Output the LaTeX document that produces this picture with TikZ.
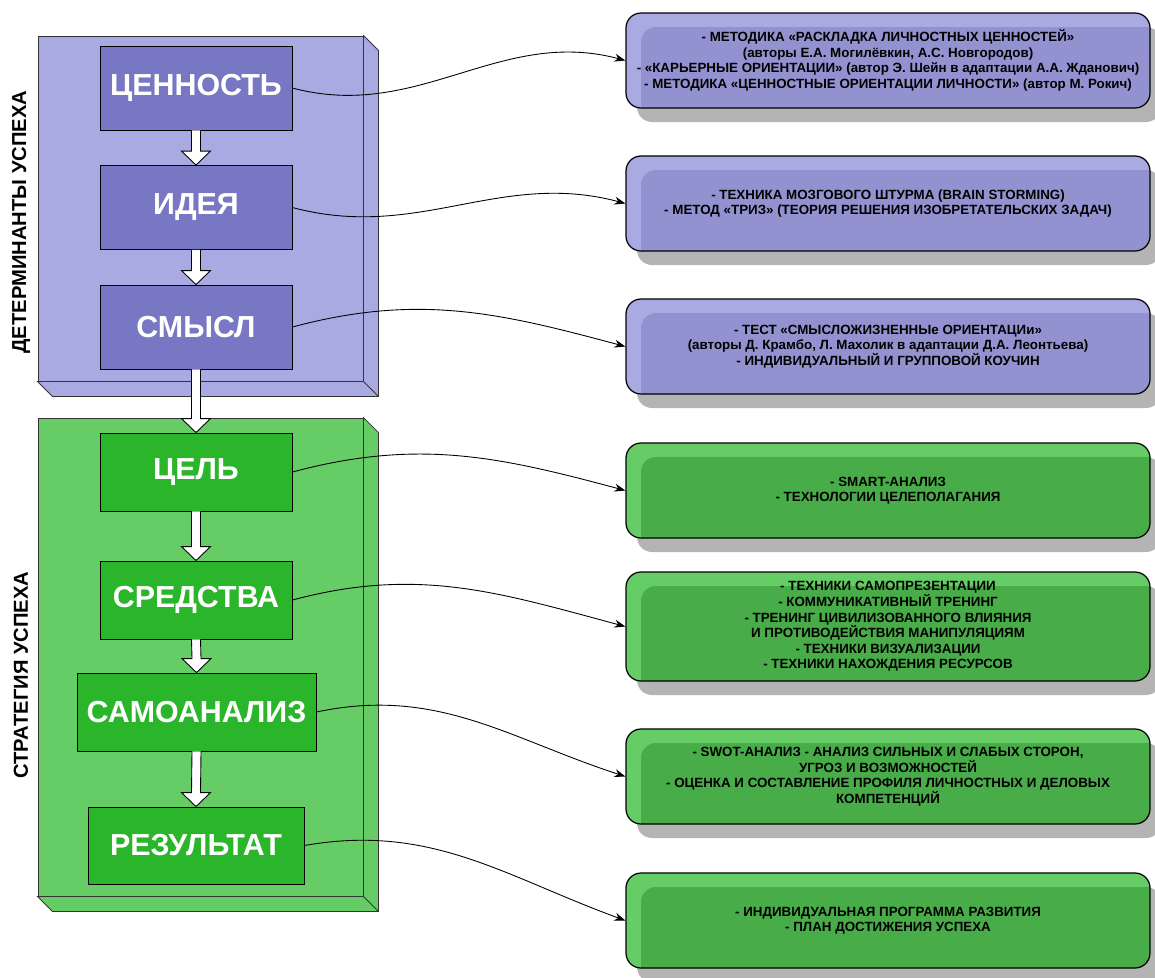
\documentclass[tikz,border=0pt]{standalone}
\usepackage{fontspec}
\setmainfont{Liberation Sans}
\usetikzlibrary{arrows.meta,positioning,calc,shadows}

\definecolor{bluepanel}{HTML}{AAAAE3}
\definecolor{bluestep}{HTML}{7777C4}
\definecolor{blueinner}{HTML}{9292D0}
\definecolor{greenpanel}{HTML}{66CC66}
\definecolor{greenstep}{HTML}{2AB52A}
\definecolor{greeninner}{HTML}{48AD48}
\definecolor{shadowgray}{HTML}{B4B4B4}

% white block arrow between two steps
\newcommand{\blockarrow}[2]{%
  \draw[arrowbox] ([xshift=-0.09cm]#1.south) -- ([xshift=-0.09cm,yshift=0.28cm]#2.north)
    -- ([xshift=-0.29cm,yshift=0.28cm]#2.north) -- (#2.north)
    -- ([xshift=0.29cm,yshift=0.28cm]#2.north) -- ([xshift=0.09cm,yshift=0.28cm]#2.north)
    -- ([xshift=0.09cm]#1.south);}

\begin{document}
\begin{tikzpicture}[
    panel/.style={draw=black!80, line width=0.5pt, minimum width=6.5cm, inner sep=0pt},
    paneltext/.style={rotate=90, font=\fontsize{11.5}{14}\selectfont\bfseries},
    stepbox/.style={draw=black, line width=0.5pt, text=white, inner sep=0pt,
        font=\fontsize{17.3}{20}\selectfont\bfseries, minimum width=3.84cm, minimum height=1.68cm},
    arrowbox/.style={draw=black, fill=white, line width=0.5pt},
    toolbox/.style={draw=black, line width=0.7pt, rounded corners=0.3cm, align=center,
        minimum width=10.48cm, minimum height=1.9cm, inner sep=0pt,
        font=\fontsize{7.6}{8.9}\selectfont\bfseries,
        drop shadow={shadow xshift=0.22cm, shadow yshift=-0.28cm, fill=shadowgray, opacity=1}},
    bluetool/.style={toolbox, fill=bluepanel, path picture={
        \fill[blueinner, rounded corners=0.3cm]
            ([xshift=0.3cm,yshift=-0.28cm]path picture bounding box.north west)
            rectangle ([xshift=0.5cm,yshift=-0.5cm]path picture bounding box.south east);}},
    greentool/.style={toolbox, fill=greenpanel, path picture={
        \fill[greeninner, rounded corners=0.3cm]
            ([xshift=0.3cm,yshift=-0.28cm]path picture bounding box.north west)
            rectangle ([xshift=0.5cm,yshift=-0.5cm]path picture bounding box.south east);}},
    link/.style={-{Stealth[length=2.2mm, width=1.6mm]}, line width=0.5pt}
]
    \useasboundingbox (0,0) rectangle (23.1,-19.54);

    % --- Panneaux ---
    \node[panel, fill=bluepanel, minimum height=6.9cm] (detpanel) at (4.01,-4.17) {};
    \fill[bluepanel, draw=black!80, line width=0.5pt] (detpanel.north east) -- ++(0.3,-0.3)
        |- ($(detpanel.south west)+(0.3,-0.3)$) -- (detpanel.south west) -- (detpanel.south east) -- cycle;
    \draw[black!80, line width=0.5pt] (detpanel.south east) -- ++(0.3,-0.3);

    \node[panel, fill=greenpanel, minimum height=9.56cm] (strpanel) at (4.01,-13.14) {};
    \fill[greenpanel, draw=black!80, line width=0.5pt] (strpanel.north east) -- ++(0.3,-0.3)
        |- ($(strpanel.south west)+(0.3,-0.3)$) -- (strpanel.south west) -- (strpanel.south east) -- cycle;
    \draw[black!80, line width=0.5pt] (strpanel.south east) -- ++(0.3,-0.3);

    \node[paneltext] (detlabel) at (0.42,-4.44) {ДЕТЕРМИНАНТЫ УСПЕХА};
    \node[paneltext] (strlabel) at (0.42,-13.5) {СТРАТЕГИЯ УСПЕХА};

    % --- Etapes ---
    \node[stepbox, fill=bluestep] (value) at (3.92,-1.76) {ЦЕННОСТЬ};
    \node[stepbox, fill=bluestep] (idea) at (3.92,-4.15) {ИДЕЯ};
    \node[stepbox, fill=bluestep] (sense) at (3.92,-6.54) {СМЫСЛ};

    \node[stepbox, fill=greenstep, minimum height=1.56cm] (goal) at (3.92,-9.44) {ЦЕЛЬ};
    \node[stepbox, fill=greenstep, minimum height=1.56cm] (means) at (3.92,-12.0) {СРЕДСТВА};
    \node[stepbox, fill=greenstep, minimum height=1.56cm, minimum width=4.78cm] (selfan) at (3.93,-14.24) {САМОАНАЛИЗ};
    \node[stepbox, fill=greenstep, minimum height=1.54cm, minimum width=4.32cm] (result) at (3.92,-16.91) {РЕЗУЛЬТАТ};

    \blockarrow{value}{idea}
    \blockarrow{idea}{sense}
    \blockarrow{sense}{goal}
    \blockarrow{goal}{means}
    \blockarrow{means}{selfan}
    \blockarrow{selfan}{result}

    % --- Methodes ---
    \node[bluetool] (tvalue) at (17.76,-1.21) {
        - МЕТОДИКА «РАСКЛАДКА ЛИЧНОСТНЫХ ЦЕННОСТЕЙ»\\
        (авторы Е.А. Могилёвкин, А.С. Новгородов)\\
        - «КАРЬЕРНЫЕ ОРИЕНТАЦИИ» (автор Э. Шейн в адаптации А.А. Жданович)\\
        - МЕТОДИКА «ЦЕННОСТНЫЕ ОРИЕНТАЦИИ ЛИЧНОСТИ» (автор М. Рокич)
    };
    \node[bluetool] (tidea) at (17.76,-4.07) {
        - ТЕХНИКА МОЗГОВОГО ШТУРМА (BRAIN STORMING)\\
        - МЕТОД «ТРИЗ» (ТЕОРИЯ РЕШЕНИЯ ИЗОБРЕТАТЕЛЬСКИХ ЗАДАЧ)
    };
    \node[bluetool] (tsense) at (17.76,-6.93) {
        - ТЕСТ «СМЫСЛОЖИЗНЕННЫе ОРИЕНТАЦИи»\\
        (авторы Д. Крамбо, Л. Махолик в адаптации Д.А. Леонтьева)\\
        - ИНДИВИДУАЛЬНЫЙ И ГРУППОВОЙ КОУЧИН
    };
    \node[greentool] (tgoal) at (17.76,-9.81) {
        - SMART-АНАЛИЗ\\
        - ТЕХНОЛОГИИ ЦЕЛЕПОЛАГАНИЯ
    };
    \node[greentool, minimum height=2.18cm] (tmeans) at (17.76,-12.53) {
        - ТЕХНИКИ САМОПРЕЗЕНТАЦИИ\\
        - КОММУНИКАТИВНЫЙ ТРЕНИНГ\\
        - ТРЕНИНГ ЦИВИЛИЗОВАННОГО ВЛИЯНИЯ\\
        И ПРОТИВОДЕЙСТВИЯ МАНИПУЛЯЦИЯМ\\
        - ТЕХНИКИ ВИЗУАЛИЗАЦИИ\\
        - ТЕХНИКИ НАХОЖДЕНИЯ РЕСУРСОВ
    };
    \node[greentool] (tselfan) at (17.76,-15.53) {
        - SWOT-АНАЛИЗ - АНАЛИЗ СИЛЬНЫХ И СЛАБЫХ СТОРОН,\\
        УГРОЗ И ВОЗМОЖНОСТЕЙ\\
        - ОЦЕНКА И СОСТАВЛЕНИЕ ПРОФИЛЯ ЛИЧНОСТНЫХ И ДЕЛОВЫХ\\
        КОМПЕТЕНЦИЙ
    };
    \node[greentool] (tresult) at (17.76,-18.41) {
        - ИНДИВИДУАЛЬНАЯ ПРОГРАММА РАЗВИТИЯ\\
        - ПЛАН ДОСТИЖЕНИЯ УСПЕХА
    };

    % --- Liens ---
    \draw[link] (value.east) to[out=-15, in=165] (tvalue.west);
    \draw[link] (idea.east) to[out=-15, in=165] (tidea.west);
    \draw[link] (sense.east) to[out=15, in=165] (tsense.west);
    \draw[link] (goal.east) to[out=15, in=165] (tgoal.west);
    \draw[link] (means.east) to[out=15, in=165] (tmeans.west);
    \draw[link] (selfan.east) to[out=12, in=162] (tselfan.west);
    \draw[link] (result.east) to[out=10, in=160] (tresult.west);

\end{tikzpicture}
\end{document}
